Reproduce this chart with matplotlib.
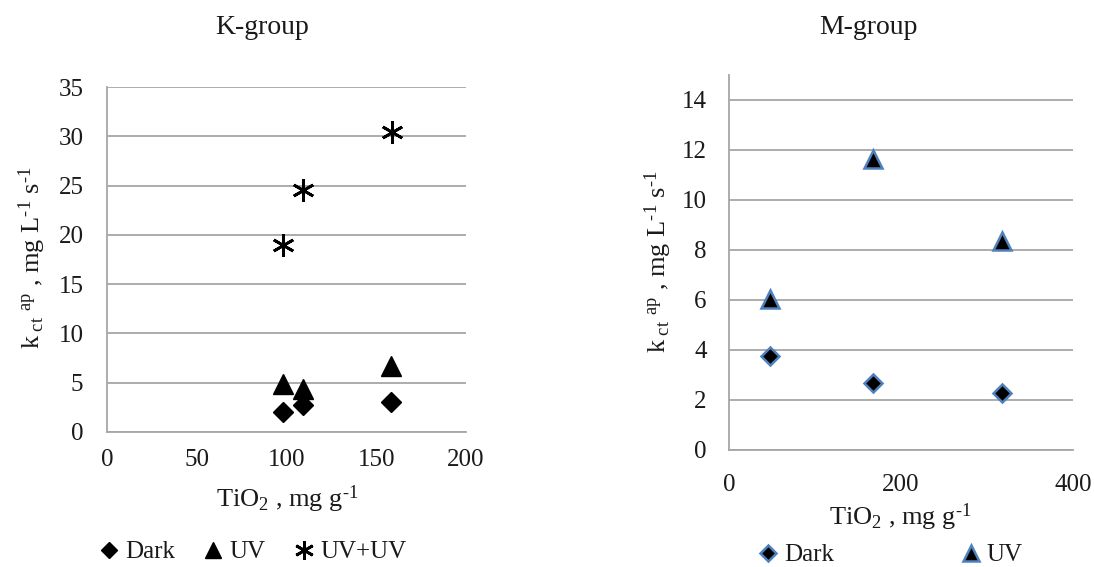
import matplotlib
matplotlib.use("Agg")
import matplotlib.pyplot as plt

plt.rcParams['font.family'] = ['Liberation Serif', 'DejaVu Serif']
plt.rcParams['mathtext.fontset'] = 'custom'
plt.rcParams['mathtext.rm'] = 'Liberation Serif'
plt.rcParams['mathtext.it'] = 'Liberation Serif:italic'
plt.rcParams['mathtext.bf'] = 'Liberation Serif:bold'

# K-group data
k_dark_x = [98, 109, 158]
k_dark_y = [2.0, 2.7, 3.0]
k_uv_x = [98, 109, 158]
k_uv_y = [4.9, 4.4, 6.7]
k_uvuv_x = [98, 109, 159]
k_uvuv_y = [19.0, 24.6, 30.4]

# M-group data
m_dark_x = [48, 168, 317]
m_dark_y = [3.76, 2.69, 2.27]
m_uv_x = [48, 168, 317]
m_uv_y = [6.05, 11.65, 8.35]

k_xticks = [0, 50, 100, 150, 200]
k_yticks = [0, 5, 10, 15, 20, 25, 30, 35]
m_xticks = [0, 200, 400]
m_yticks = [0, 2, 4, 6, 8, 10, 12, 14]

grid_col = '#A6A6A6'
edge_blue = '#4F81BD'
txt_col = '#1a1a1a'
fs_tick = 18
fs_lab = 19
fs_title = 20
W, H = 1094, 567

fig = plt.figure(figsize=(W / 100, H / 100), dpi=100)

def px_axes(x0, x1, y_top, y_bot):
    return fig.add_axes([x0 / W, 1 - y_bot / H, (x1 - x0) / W, (y_bot - y_top) / H])

def style(ax, xlim, ylim, xt, yt, xpad, ypad):
    ax.set_xlim(*xlim)
    ax.set_ylim(*ylim)
    ax.set_xticks(xt)
    ax.set_yticks(yt)
    for s in ['top', 'right']:
        ax.spines[s].set_visible(False)
    for s in ['left', 'bottom']:
        ax.spines[s].set_color(grid_col)
        ax.spines[s].set_linewidth(1.3)
    ax.tick_params(axis='both', length=0, labelsize=fs_tick, labelcolor=txt_col)
    ax.tick_params(axis='x', pad=xpad)
    ax.tick_params(axis='y', pad=ypad)
    ax.yaxis.grid(True, color=grid_col, linewidth=1.3)
    ax.set_axisbelow(True)

ylab = (r'k$_{\ \mathrm{ct}}$ $^{\mathrm{ap}}$ , mg L$^{\text{-1}}$ s$^{\text{-1}}$')
xlab = r'TiO$_{2}$ , mg g$^{\text{-1}}$'
star = (6, 2, 0)

# Left panel
ax1 = px_axes(107, 466, 87, 432)
style(ax1, (0, 200), (0, 35), k_xticks, k_yticks, 12, 17)
ax1.plot(k_dark_x, k_dark_y, ls='none', marker='D', ms=10, color='black', label='Dark')
ax1.plot(k_uv_x, k_uv_y, ls='none', marker='^', ms=14, color='black', label='UV')
ax1.plot(k_uvuv_x, k_uvuv_y, ls='none', marker=star, ms=16, color='black',
         markeredgewidth=2.0, label='UV+UV')
for l in ax1.lines:
    l.set_clip_on(False)

# Right panel
ax2 = px_axes(729, 1073, 75, 450)
style(ax2, (0, 400), (0, 15), m_xticks, m_yticks, 17, 16)
ax2.plot(m_dark_x, m_dark_y, ls='none', marker='D', ms=9.5, markerfacecolor='black',
         markeredgecolor=edge_blue, markeredgewidth=1.8, label='Dark')
ax2.plot(m_uv_x, m_uv_y, ls='none', marker='^', ms=13, markerfacecolor='black',
         markeredgecolor=edge_blue, markeredgewidth=1.8, label='UV')

# Titles and axis labels
fig.text(262 / W, 1 - 28 / H, 'K-group', ha='center', va='center', fontsize=fs_title, color=txt_col)
fig.text(868 / W, 1 - 28 / H, 'M-group', ha='center', va='center', fontsize=fs_title, color=txt_col)
fig.text(287 / W, 1 - 499 / H, xlab, ha='center', va='center', fontsize=fs_lab, color=txt_col)
fig.text(900 / W, 1 - 517 / H, xlab, ha='center', va='center', fontsize=fs_lab, color=txt_col)
fig.text(32 / W, 1 - 258 / H, ylab, ha='center', va='center', rotation=90, fontsize=fs_lab, color=txt_col)
fig.text(658 / W, 1 - 262 / H, ylab, ha='center', va='center', rotation=90, fontsize=fs_lab, color=txt_col)

# Legends
h1, l1 = ax1.get_legend_handles_labels()
leg1 = fig.legend(h1, l1, loc='center', bbox_to_anchor=(252 / W, 1 - 552 / H), ncol=3,
                  frameon=False, fontsize=18, handlelength=0.9, handletextpad=0.2,
                  columnspacing=1.1, markerscale=0.85)
h2, l2 = ax2.get_legend_handles_labels()
leg2 = fig.legend(h2, l2, loc='center', bbox_to_anchor=(890 / W, 1 - 555 / H), ncol=2,
                  frameon=False, fontsize=18, handlelength=0.9, handletextpad=0.2,
                  columnspacing=5.0, markerscale=0.85)
for t in leg1.get_texts() + leg2.get_texts():
    t.set_color(txt_col)

fig.savefig('out.png', dpi=100)
